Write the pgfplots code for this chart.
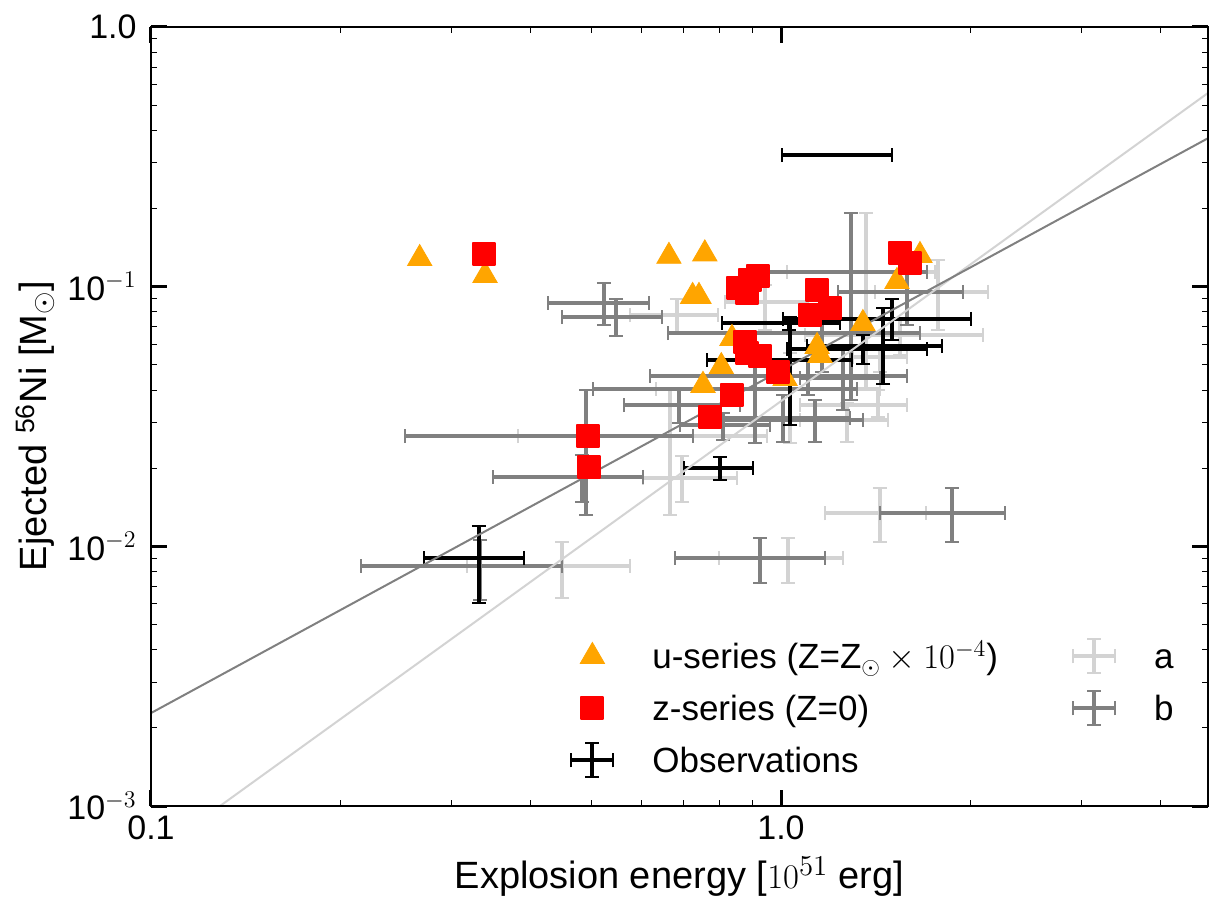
\documentclass[border=0pt]{standalone}
\usepackage{fontspec}
\setmainfont{Liberation Sans}
\usepackage{pgfplots}
\usepackage{pgfplotstable}
\pgfplotsset{compat=1.18}
\definecolor{lgray}{RGB}{211,211,211}
\definecolor{dgray}{RGB}{128,128,128}
\definecolor{morange}{RGB}{255,165,0}
\definecolor{mred}{RGB}{255,0,0}

% Observations
\pgfplotstableread{
x y xlo xhi ylo yhi
0.3316 0.00902 0.2713 0.3909 0.00605 0.0120
1.2273 0.3214 1.0037 1.5004 0.3214 0.3214
0.8000 0.0200 0.7015 0.9029 0.0180 0.0221
1.5004 0.0751 1.0074 2.0025 0.0623 0.0897
1.4520 0.0591 1.0997 1.8015 0.0422 0.0828
1.3496 0.0575 1.0221 1.7049 0.0504 0.0652
1.0335 0.0522 0.7630 1.2963 0.0293 0.0764
1.0297 0.0725 0.8057 1.2408 0.0681 0.0764
}\obs

% a
\pgfplotstableread{
x y xlo xhi ylo yhi
0.4493 0.00841 0.3174 0.5758 0.00633 0.0104
0.6965 0.0183 0.6039 0.8515 0.0148 0.0223
0.6665 0.0266 0.3823 0.9501 0.0132 0.0400
1.4360 0.0134 1.1746 1.6988 0.0104 0.0168
1.0259 0.00902 0.7972 1.2544 0.00723 0.0108
0.6838 0.0778 0.5758 0.7943 0.0663 0.0897
1.3645 0.1139 1.0221 1.7556 0.0400 0.1922
1.7750 0.0954 1.4100 2.1312 0.0681 0.1267
1.0335 0.0404 0.6333 1.4360 0.0250 0.0555
1.2729 0.0307 1.0720 1.4786 0.0252 0.0357
1.4256 0.0350 1.0720 1.5849 0.0315 0.0400
1.5450 0.0652 1.0917 2.0924 0.0546 0.0758
0.9432 0.0873 0.8147 1.1037 0.0681 0.1015
1.4360 0.0536 1.3011 1.5849 0.0469 0.0596
}\aser

% b
\pgfplotstableread{
x y xlo xhi ylo yhi
0.3329 0.00841 0.2154 0.4493 0.00622 0.0106
0.4832 0.0185 0.3490 0.6039 0.0148 0.0225
0.4904 0.0266 0.2531 0.7251 0.0132 0.0400
1.8682 0.0134 1.4360 2.2681 0.0104 0.0168
0.9262 0.00902 0.6788 1.1746 0.00723 0.0108
0.5236 0.0866 0.4268 0.6172 0.0712 0.1033
0.5471 0.0764 0.4493 0.6474 0.0646 0.0897
1.2915 0.1139 0.9536 1.7049 0.0366 0.1922
1.5849 0.0954 1.2318 1.9451 0.0712 0.1213
0.9094 0.0404 0.5031 1.3203 0.0250 0.0555
0.6888 0.0350 0.5634 0.8607 0.0299 0.0400
1.1324 0.0307 0.8000 1.3496 0.0252 0.0366
1.1037 0.0453 0.6196 1.5849 0.0383 0.0522
1.0074 0.0312 0.7437 1.2868 0.0252 0.0383
1.1618 0.0663 0.6616 1.6617 0.0469 0.0889
0.8087 0.0293 0.6914 0.9605 0.0257 0.0326
1.2544 0.0445 1.0720 1.4360 0.0335 0.0586
}\bser

% u-series
\pgfplotstableread{
x y
0.267 0.1324
0.339 0.114
0.664 0.135
0.757 0.138
0.724 0.0946
0.741 0.0946
0.836 0.0652
0.804 0.0508
0.752 0.0430
1.015 0.0457
1.349 0.0744
1.141 0.0607
1.153 0.0561
1.528 0.108
1.662 0.136
}\useries

% z-series
\pgfplotstableread{
x y
0.338 0.1336
0.494 0.0266
0.496 0.0202
1.545 0.135
1.603 0.1234
0.855 0.0989
0.883 0.0946
0.893 0.106
0.919 0.110
1.141 0.0971
1.196 0.0828
1.112 0.0778
0.877 0.0612
0.883 0.0555
0.926 0.0541
0.989 0.0470
0.836 0.0383
0.772 0.0315
}\zseries

\newcommand\legcross[1]{%
  \path[draw=none,fill=none] (0pt,-9pt) rectangle (42pt,9pt);
  \draw[#1, line width=2pt] (12pt,-8.5pt)--(12pt,8.5pt) (1.5pt,0pt)--(22.5pt,0pt);
  \draw[#1, line width=1pt] (8.5pt,-8.5pt)--(15.5pt,-8.5pt) (8.5pt,8.5pt)--(15.5pt,8.5pt) (1.5pt,-3.5pt)--(1.5pt,3.5pt) (22.5pt,-3.5pt)--(22.5pt,3.5pt);}
\newcommand\legmark[1]{%
  \path[draw=none,fill=none] (0pt,-9pt) rectangle (42pt,9pt);
  \draw[#1] plot coordinates {(12pt,0pt)};}

\newcommand\bigfont{\fontsize{17}{20}\selectfont}
\newcommand\legfont{\fontsize{17.5}{20}\selectfont}
\newcommand\labfont{\fontsize{19}{22}\selectfont}

\pgfplotsset{
  ebars/.style={draw=none, mark=none, forget plot,
    error bars/.cd, x dir=both, y dir=both, x explicit, y explicit,
    error bar style={draw=#1, line width=2pt},
    error mark options={draw=#1, rotate=90, line width=1pt, mark size=3.5pt}},
}

\begin{document}
\begin{tikzpicture}
\begin{axis}[
  xmode=log, ymode=log,
  scale only axis, width=528.5pt, height=389.5pt,
  xmin=0.1, xmax=4.762, ymin=1e-3, ymax=1,
  xtick={0.1,1}, xticklabels={0.1,1.0},
  ytick={0.001,0.01,0.1,1}, yticklabels={10$^{-3}$,10$^{-2}$,10$^{-1}$,1.0},
  minor xtick={0.2,0.3,0.4,0.5,0.6,0.7,0.8,0.9,2,3,4},
  minor ytick={0.002,0.003,0.004,0.005,0.006,0.007,0.008,0.009,0.02,0.03,0.04,0.05,0.06,0.07,0.08,0.09,0.2,0.3,0.4,0.5,0.6,0.7,0.8,0.9},
  tick align=inside, major tick length=8pt, minor tick length=3pt,
  major tick style={line width=1.5pt, black},
  minor tick style={line width=0.5pt, black},
  axis line style={line width=0.9pt},
  axis on top,
  xticklabel style={font=\bigfont, anchor=base, yshift=-16.5pt, inner sep=0pt},
  yticklabel style={font=\bigfont, anchor=east, xshift=-7pt, inner sep=0pt},
  every axis x label/.style={at={(axis description cs:0.5,0)}, anchor=base, yshift=-41pt, font=\labfont},
  every axis y label/.style={at={(axis description cs:-0.1097,0.488)}, rotate=90, anchor=center, font=\labfont},
  xlabel={Explosion energy [$10^{51}$ erg]},
  ylabel={Ejected \textsuperscript{56}Ni [M$_\odot$]},
  legend columns=2,
  legend cell align=left,
  legend style={draw=none, fill=none, inner sep=0pt, row sep=7pt, font=\legfont,
    at={(rel axis cs:0.3945,0.2169)}, anchor=north west,
    nodes={inner sep=0pt, text height=12.4pt, text depth=0pt},
    /tikz/every even column/.append style={column sep=36pt}},
]
\addplot[ebars=lgray] table[x=x, y=y,
  x error plus expr=\thisrow{xhi}-\thisrow{x}, x error minus expr=\thisrow{x}-\thisrow{xlo},
  y error plus expr=\thisrow{yhi}-\thisrow{y}, y error minus expr=\thisrow{y}-\thisrow{ylo}] {\aser};
\addplot[ebars=dgray] table[x=x, y=y,
  x error plus expr=\thisrow{xhi}-\thisrow{x}, x error minus expr=\thisrow{x}-\thisrow{xlo},
  y error plus expr=\thisrow{yhi}-\thisrow{y}, y error minus expr=\thisrow{y}-\thisrow{ylo}] {\bser};
\addplot[ebars=black] table[x=x, y=y,
  x error plus expr=\thisrow{xhi}-\thisrow{x}, x error minus expr=\thisrow{x}-\thisrow{xlo},
  y error plus expr=\thisrow{yhi}-\thisrow{y}, y error minus expr=\thisrow{y}-\thisrow{ylo}] {\obs};

\addplot[lgray, line width=1pt, forget plot] coordinates {(0.1287,0.001) (4.762,0.557)};
\addplot[dgray, line width=1pt, forget plot] coordinates {(0.1,0.00228) (4.762,0.373)};

\addplot[only marks, mark=triangle*, mark size=7pt, morange, forget plot,
  mark options={yshift=-1.75pt}] table[x=x,y=y] {\useries};
\addplot[only marks, mark=square*, mark size=5.5pt, mred, forget plot,
  mark options={line width=1pt, line join=round}] table[x=x,y=y] {\zseries};

\addlegendimage{legend image code/.code={\legmark{only marks, mark=triangle*, mark size=7pt, morange}}}
\addlegendentry{u-series (Z=Z$_\odot\times10^{-4}$)}
\addlegendimage{legend image code/.code={\legcross{lgray}}}
\addlegendentry{a}
\addlegendimage{legend image code/.code={\legmark{only marks, mark=square*, mark size=5.5pt, mred, mark options={line width=1pt, line join=round}}}}
\addlegendentry{z-series (Z=0)}
\addlegendimage{legend image code/.code={\legcross{dgray}}}
\addlegendentry{b}
\addlegendimage{legend image code/.code={\legcross{black}}}
\addlegendentry{Observations}
\end{axis}
\pgfresetboundingbox
\path[use as bounding box] (-75.5pt,-46.5pt) rectangle (529.5pt,403pt);
\end{tikzpicture}
\end{document}
